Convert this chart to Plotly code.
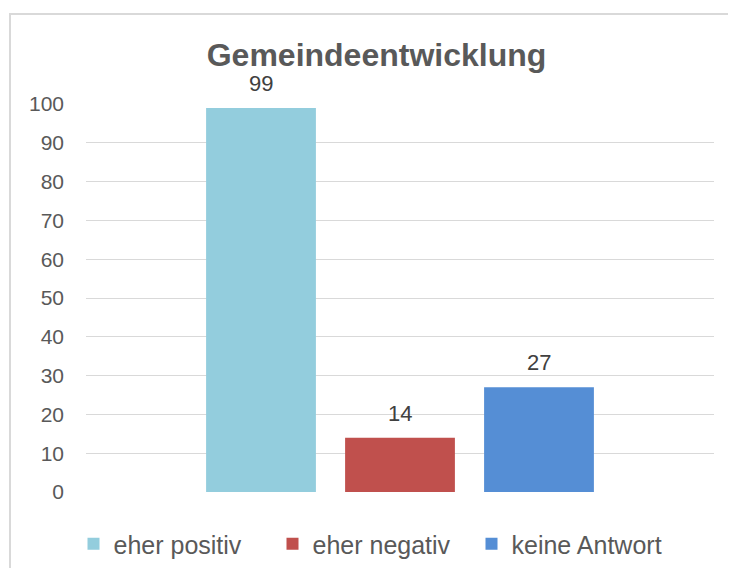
import plotly.graph_objects as go

series = ["eher positiv", "eher negativ", "keine Antwort"]
values = [99, 14, 27]
colors = ["#93CDDD", "#C0504D", "#558ED5"]
title = "Gemeindeentwicklung"
y_ticks = list(range(0, 101, 10))

OFF = 8  # page body margin offset
W, H = 736 - 2 * OFF, 576 - 2 * OFF
L, T = 86 - OFF, 104 - OFF
R = W - (714 - OFF)
B = H - (492 - OFF)

fig = go.Figure()
for i, (name, v, c) in enumerate(zip(series, values, colors)):
    fig.add_trace(go.Bar(
        x=[i], y=[v], name=name, marker=dict(color=c, line=dict(width=0)),
        width=0.79, hoverinfo="skip",
    ))
    fig.add_annotation(x=i, y=v, text=str(v), showarrow=False, yanchor="bottom",
                       yshift=10, font=dict(family="Liberation Sans, Arial", size=22, color="#404040"))

fig.update_layout(
    width=W, height=H,
    margin=dict(l=L, r=R, t=T, b=B),
    paper_bgcolor="white", plot_bgcolor="white",
    barmode="overlay",
    font=dict(family="Liberation Sans, Arial", color="#595959"),
    title=dict(text="<b>" + title + "</b>", x=(376.5 - OFF) / W, xanchor="center",
               xref="container", y=1 - (55 - OFF) / H, yanchor="middle", yref="container",
               font=dict(size=32, color="#595959")),
    showlegend=True,
    legend=dict(orientation="h", xref="container", yref="container",
                x=(372 - OFF) / W, xanchor="center", y=1 - (544 - OFF) / H, yanchor="middle",
                font=dict(size=25, color="#595959"), itemwidth=30,
                entrywidth=154, entrywidthmode="pixels",
                traceorder="normal"),
    xaxis=dict(range=[-1.259, 3.259], showticklabels=False, showgrid=False,
               zeroline=False, showline=False, fixedrange=True),
    yaxis=dict(range=[0, 100], tickvals=y_ticks, showgrid=True, gridcolor="#d9d9d9",
               gridwidth=1, zeroline=False, showline=False,
               tickfont=dict(size=21, color="#595959"), ticklabelstandoff=21),
)

# outer chart border
plot_w = W - L - R
plot_h = H - T - B
fig.add_shape(type="rect", xref="paper", yref="paper",
              x0=(10 - OFF - L) / plot_w, x1=(760 - OFF - L) / plot_w,
              y0=(H - B - 600) / plot_h, y1=(H - B - (14 - OFF)) / plot_h,
              line=dict(color="#d9d9d9", width=2), fillcolor="rgba(0,0,0,0)", layer="below")

fig.write_html("out.html")
